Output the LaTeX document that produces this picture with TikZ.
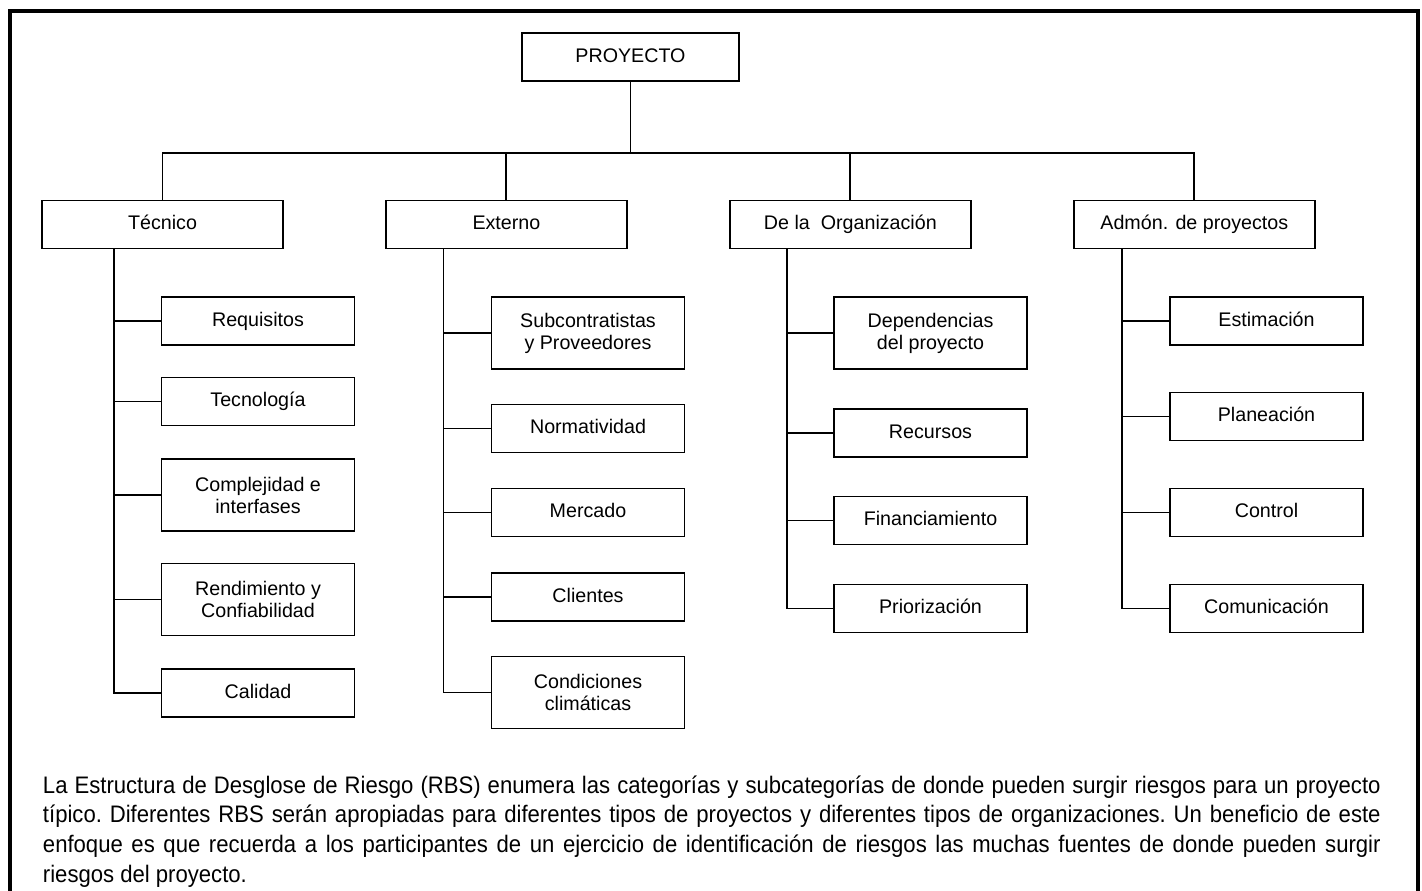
\documentclass[tikz,border=0pt]{standalone}
\usepackage{fontspec}
\setmainfont{Liberation Sans}
\newfontfamily\notafont[FakeStretch=0.925]{Liberation Sans}

\begin{document}
\begin{tikzpicture}[
    x=0.02cm, y=-0.02cm,
    line width=1.1pt,
    node distance=6.88cm,
    boxbase/.style={rectangle, draw, 
                    minimum height=0.96cm,
                    inner sep=0pt,
                    align=center,
                    font=\fontsize{11.2}{12.5}\selectfont},
    catbox/.style={boxbase, minimum width=4.82cm, text height=8pt, text depth=2.3pt},
    rootbox/.style={catbox, minimum width=4.34cm},
    subbox/.style={catbox, minimum width=3.86cm},
    tallbox/.style={boxbase, minimum width=3.86cm, minimum height=1.44cm},
    nota/.style={text width=26.76cm, align=justify, inner sep=0pt,
                 font=\notafont\fontsize{13.6}{17}\selectfont}
]
\useasboundingbox (0,0) rectangle (1422,890);
\draw[line width=2.3pt] (10,900) -- (10,11) -- (1418,11) -- (1418,900);

\node[rootbox] (proyecto) at (630.5,57) {PROYECTO};
\node[catbox] (tecnico) at (162.5,224.5) {Técnico};
\node[catbox, right of=tecnico] (externo) {Externo};
\node[catbox, right of=externo] (organiz) {De la \ Organización};
\node[catbox, right of=organiz] (admon) {Admón. de proyectos};

\node[subbox] (requisitos) at (258,321) {Requisitos};
\node[subbox] (tecnologia) at (258,401.5) {Tecnología};
\node[tallbox] (complejidad) at (258,495) {Complejidad e\\interfases};
\node[tallbox] (rendimiento) at (258,599.5) {Rendimiento y\\Confiabilidad};
\node[subbox] (calidad) at (258,693) {Calidad};

\node[tallbox] (subcontrat) at (588,333) {Subcontratistas\\y Proveedores};
\node[subbox] (normativ) at (588,428.5) {Normatividad};
\node[subbox] (mercado) at (588,512.5) {Mercado};
\node[subbox] (clientes) at (588,597) {Clientes};
\node[tallbox] (condic) at (588,692.5) {Condiciones\\climáticas};

\node[tallbox] (depend) at (930.5,333) {Dependencias\\del proyecto};
\node[subbox] (recursos) at (930.5,433) {Recursos};
\node[subbox] (financ) at (930.5,520.5) {Financiamiento};
\node[subbox] (prioriz) at (930.5,608.5) {Priorización};

\node[subbox] (estimac) at (1266.5,321) {Estimación};
\node[subbox] (planeac) at (1266.5,416.5) {Planeación};
\node[subbox] (control) at (1266.5,512.5) {Control};
\node[subbox] (comunic) at (1266.5,608.5) {Comunicación};

\coordinate (bus) at (630.5,153);
\draw (proyecto) -- (bus);
\draw (tecnico.north) |- (bus) -| (admon.north);
\draw (externo.north) -- (externo.north |- bus);
\draw (organiz.north) -- (organiz.north |- bus);

\coordinate (trunkA) at (114,0);
\coordinate (trunkB) at (443.5,0);
\coordinate (trunkC) at (787,0);
\coordinate (trunkD) at (1122,0);
\foreach \c in {requisitos,tecnologia,complejidad,rendimiento,calidad}
    \draw (trunkA |- tecnico.south) |- (\c.west);
\foreach \c in {subcontrat,normativ,mercado,clientes,condic}
    \draw (trunkB |- externo.south) |- (\c.west);
\foreach \c in {depend,recursos,financ,prioriz}
    \draw (trunkC |- organiz.south) |- (\c.west);
\foreach \c in {estimac,planeac,control,comunic}
    \draw (trunkD |- admon.south) |- (\c.west);

\node[nota, anchor=base west] (texto) at (42,793) {\frenchspacing La Estructura de Desglose de Riesgo (RBS) enumera las categorías y subcategorías de donde pueden surgir riesgos para un proyecto\linebreak típico. Diferentes RBS serán apropiadas para diferentes tipos de proyectos y diferentes tipos de organizaciones. Un beneficio de este\linebreak enfoque es que recuerda a los participantes de un ejercicio de identificación de riesgos las muchas fuentes de donde pueden surgir\linebreak riesgos del proyecto.};
\end{tikzpicture}
\end{document}
